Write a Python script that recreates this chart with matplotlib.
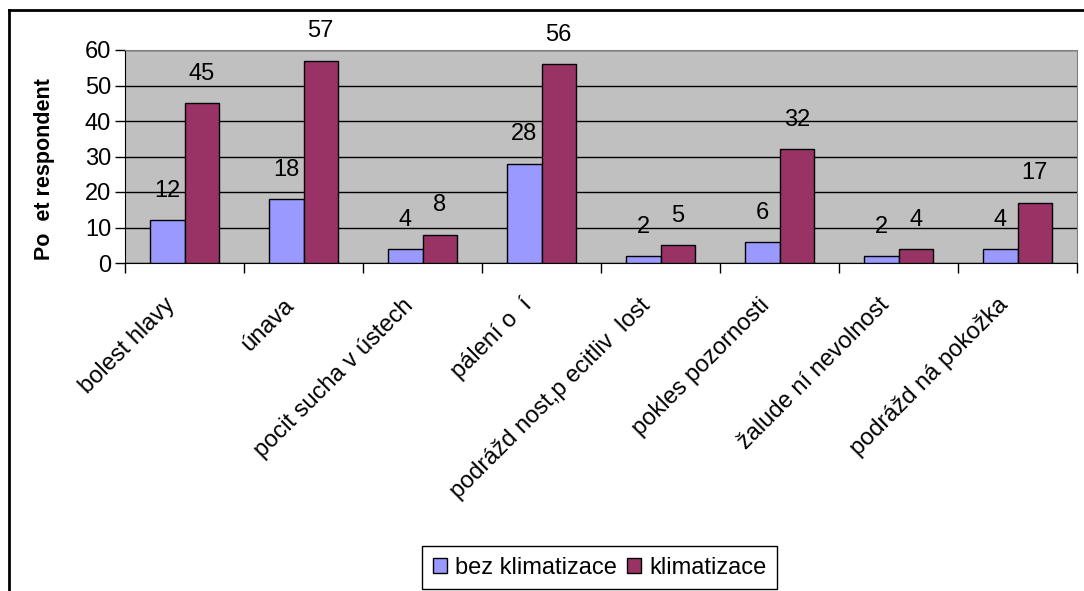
import numpy as np
import matplotlib.pyplot as plt
from matplotlib.lines import Line2D
from matplotlib.transforms import ScaledTranslation, blended_transform_factory

plt.rcParams['font.family'] = ['Liberation Sans', 'DejaVu Sans']

# Data
kategorie = ["bolest hlavy", "únava", "pocit sucha v ústech", "pálení o  í",
             "podrážd nost,p ecitliv  lost", "pokles pozornosti",
             "žalude ní nevolnost", "podrážd ná pokožka"]
bez_klimatizace = [12, 18, 4, 28, 2, 6, 2, 4]
klimatizace = [45, 57, 8, 56, 5, 32, 4, 17]
serie_nazvy = ["bez klimatizace", "klimatizace"]
y_ticks = [0, 10, 20, 30, 40, 50, 60]

W, H = 1084, 591
fs = 17
fig = plt.figure(figsize=(W / 100, H / 100), dpi=100)

# Oblast grafu v pixelech
left, top, right, bottom = 125, 50, 1077, 263
ax = fig.add_axes([left / W, 1 - bottom / H, (right - left) / W, (bottom - top) / H])
ax.set_facecolor('#C0C0C0')

x = np.arange(len(kategorie))
w = 0.29
b1 = ax.bar(x - w / 2, bez_klimatizace, w, color='#9999FF', edgecolor='black',
            linewidth=1, label=serie_nazvy[0], zorder=3)
b2 = ax.bar(x + w / 2, klimatizace, w, color='#993366', edgecolor='black',
            linewidth=1, label=serie_nazvy[1], zorder=3)

for bars, vals in ((b1, bez_klimatizace), (b2, klimatizace)):
    for rect, v in zip(bars, vals):
        ax.annotate(str(v), (rect.get_x() + rect.get_width() / 2, v),
                    xytext=(0, 21), textcoords='offset points',
                    ha='center', va='center', fontsize=fs, zorder=4)

ax.set_xlim(-0.5, len(kategorie) - 0.5)
ax.set_ylim(0, 60)
ax.set_yticks(y_ticks)
ax.tick_params(axis='y', labelsize=fs, length=7, width=1, pad=3, direction='out')
ax.yaxis.grid(True, color='black', linewidth=1)
ax.set_axisbelow(True)

# Znacky na hranicich kategorii
ax.set_xticks(np.arange(-0.5, len(kategorie), 1.0))
ax.set_xticklabels([])
ax.tick_params(axis='x', length=7, width=1, direction='out')

for s in ('top', 'right'):
    ax.spines[s].set_color('#808080')
for s in ('left', 'bottom'):
    ax.spines[s].set_color('black')

# Popisky kategorii
trans = blended_transform_factory(ax.transData, ax.transAxes) + \
    ScaledTranslation(-13 / 100, -39 / 100, fig.dpi_scale_trans)
for i, lab in enumerate(kategorie):
    ax.text(i, 0, lab, transform=trans, rotation=45, rotation_mode='anchor',
            ha='right', va='center', fontsize=fs)

fig.text(45 / W, 1 - 169 / H, "Po  et respondent", rotation=90, ha='center',
         va='center', fontsize=15.5, fontweight='bold')

leg = fig.legend(loc='center', bbox_to_anchor=(599.5 / W, 1 - 567.5 / H), ncol=2,
                 fontsize=fs, frameon=True, fancybox=False, framealpha=1,
                 edgecolor='black', handlelength=0.6, handleheight=0.6,
                 handletextpad=0.35, columnspacing=0.4, borderpad=0.45,
                 borderaxespad=0)
leg.get_frame().set_linewidth(1)

# Ramecek celeho grafu
fig.add_artist(Line2D([8.5 / W, 8.5 / W], [0, 1 - 9.5 / H], color='black', linewidth=2))
fig.add_artist(Line2D([8.5 / W, 1], [1 - 9.5 / H, 1 - 9.5 / H], color='black', linewidth=2))

fig.savefig('out.png', dpi=100)
